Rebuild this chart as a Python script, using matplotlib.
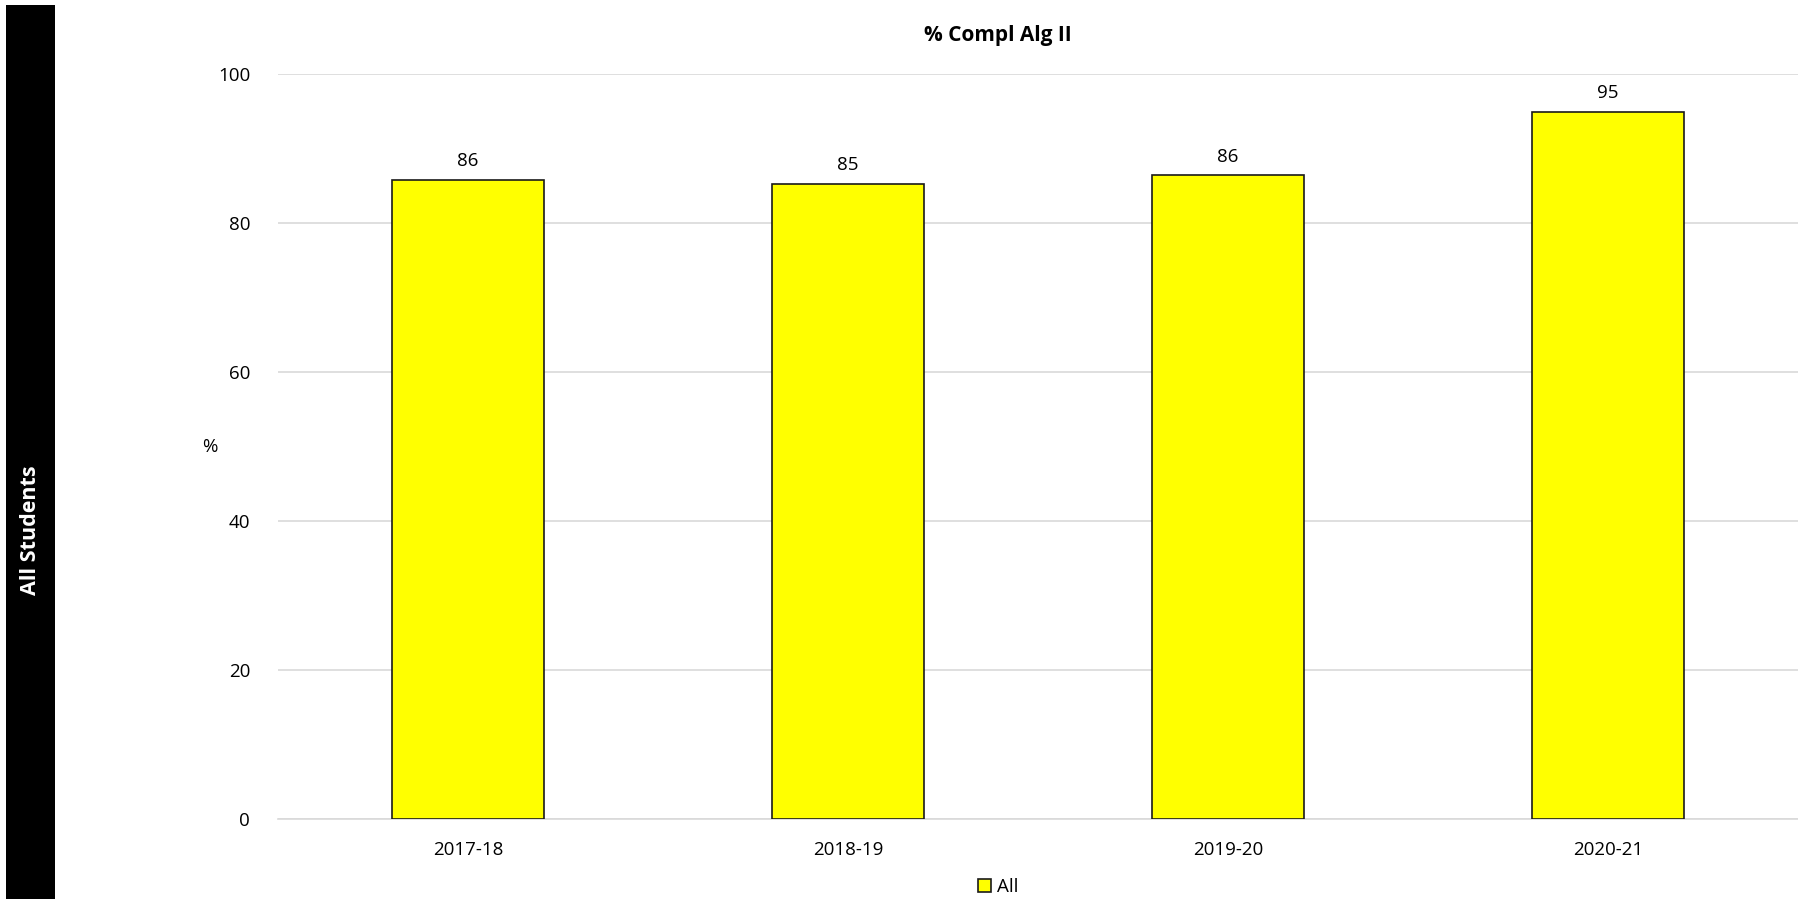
import matplotlib.pyplot as plt
from matplotlib.patches import Rectangle

years = ['2017-18', '2018-19', '2019-20', '2020-21']
pct_all = [85.8, 85.3, 86.4, 94.9]
value_labels = ['86', '85', '86', '95']
y_ticks = [0, 20, 40, 60, 80, 100]

plt.rcParams['font.family'] = ['Open Sans', 'DejaVu Sans']

W, H = 1798, 899
fig = plt.figure(figsize=(W / 100, H / 100), dpi=100)

# black side banner with the group name
fig.patches.append(Rectangle((6 / W, 0), 49 / W, 1 - 5 / H, transform=fig.transFigure,
                             facecolor='black', edgecolor='none'))
fig.text(31 / W, 1 - 530 / H, 'All Students', rotation=90, color='white',
         fontsize=15.5, fontweight='bold', ha='center', va='center')

ax = fig.add_axes([278 / W, 1 - 819 / H, (1798 - 278) / W, (819 - 74) / H])
x = range(len(years))
bars = ax.bar(x, pct_all, width=0.4, color='#ffff00', edgecolor='#1a1a1a', linewidth=1.2, zorder=3)
for b, lab in zip(bars, value_labels):
    ax.annotate(lab, (b.get_x() + b.get_width() / 2, b.get_height()), xytext=(0, 7),
                textcoords='offset points', ha='center', va='bottom', fontsize=13.5)

ax.set_xlim(-0.5, 3.5)
ax.set_ylim(0, 100)
ax.set_yticks(y_ticks)
ax.set_xticks(list(x))
ax.set_xticklabels(years)
ax.tick_params(length=0, labelsize=13.5)
ax.tick_params(axis='y', pad=20)
ax.tick_params(axis='x', pad=16)
ax.grid(axis='y', color='#d9d9d9', linewidth=1.2, zorder=0)
for s in ['top', 'right', 'left']:
    ax.spines[s].set_visible(False)
ax.spines['bottom'].set_color('#d9d9d9')
ax.spines['bottom'].set_linewidth(1.2)

fig.text(210 / W, 1 - 447 / H, '%', fontsize=13.5, ha='center', va='center')
fig.text(998 / W, 1 - 36 / H, '% Compl Alg II', fontsize=15, fontweight='bold',
         ha='center', va='center')

leg = fig.legend([bars[0]], ['All'], loc='center', bbox_to_anchor=(998 / W, 1 - 887 / H),
                 frameon=False, fontsize=13.5, handlelength=0.7, handleheight=0.7,
                 handletextpad=0.3, borderpad=0)

fig.savefig('out.png', dpi=100)
